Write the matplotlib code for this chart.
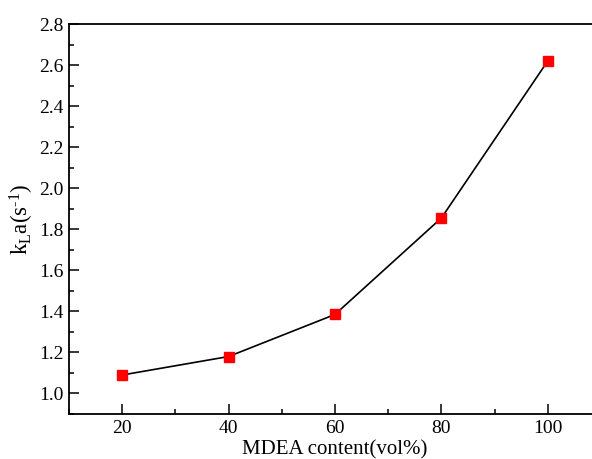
import matplotlib
matplotlib.use("Agg")
import matplotlib.pyplot as plt
from matplotlib.ticker import MultipleLocator

mdea = [20, 40, 60, 80, 100]
kla = [1.09, 1.18, 1.385, 1.855, 2.62]

plt.rcParams['font.family'] = ['Liberation Serif', 'DejaVu Serif']
plt.rcParams['mathtext.fontset'] = 'custom'
plt.rcParams['mathtext.rm'] = 'Liberation Serif'
plt.rcParams['mathtext.default'] = 'regular'

fig = plt.figure(figsize=(5.92, 4.59), dpi=100)
ax = fig.add_axes([69/592, 1 - 414/459, (601 - 69)/592, (414 - 24)/459])
ax.plot(mdea, kla, color='black', lw=1.2, marker='s', markersize=7,
        markerfacecolor='red', markeredgecolor='red', zorder=3)
ax.set_xlim(10, 110)
ax.set_ylim(0.9, 2.8)
ax.xaxis.set_major_locator(MultipleLocator(20))
ax.xaxis.set_minor_locator(MultipleLocator(10))
ax.yaxis.set_minor_locator(MultipleLocator(0.1))
ax.set_yticks([1.0, 1.2, 1.4, 1.6, 1.8, 2.0, 2.2, 2.4, 2.6, 2.8])
ax.yaxis.set_major_formatter(plt.FuncFormatter(lambda v, p: f"{v:.1f}"))
ax.tick_params(which='major', direction='in', length=7, width=1.1, labelsize=14, pad=4)
ax.tick_params(which='minor', direction='in', length=3.5, width=1.1)
ax.tick_params(top=False, right=False, which='both')
for s in ax.spines.values():
    s.set_linewidth(1.3)
ax.set_xlabel('MDEA content(vol%)', fontsize=15, labelpad=3)
ax.set_ylabel('k$_{L}$a(s$^{\u20101}$)', fontsize=16.5, labelpad=2)
fig.savefig('out.png', dpi=100)
